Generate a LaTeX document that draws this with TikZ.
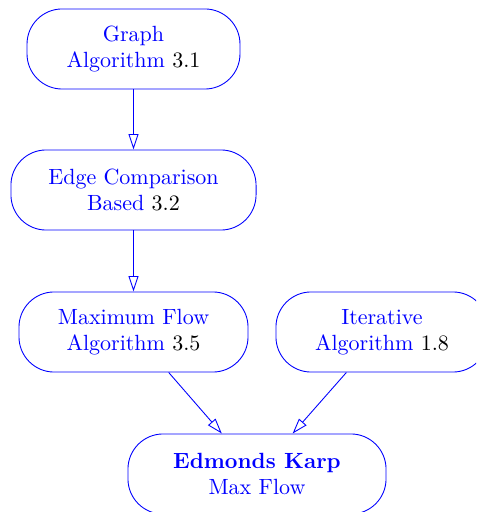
\documentclass[tikz,border=0pt]{standalone}
\usetikzlibrary{arrows.meta}
\begin{document}
\begin{tikzpicture}[x=0.4545pt,y=-0.4545pt,
  box/.style={draw=blue, text=blue, rounded corners=16pt, align=center, inner sep=0pt, minimum height=36.4pt},
  conn/.style={draw=blue, -{Triangle[open,length=7pt,width=4.5pt]}}]
\clip (0,0) rectangle (476,512);
\useasboundingbox (0,0) rectangle (476,512);
\node[box, minimum width=96.8pt] (g) at (133.5,49) {Graph\\Algorithm \textcolor{black}{3.1}};
\node[box, minimum width=111.4pt] (e) at (133.5,190) {Edge Comparison\\Based \textcolor{black}{3.2}};
\node[box, minimum width=104.1pt] (m) at (133.5,332) {Maximum Flow\\Algorithm \textcolor{black}{3.5}};
\node[box, minimum width=96.4pt] (i) at (382,332) {Iterative\\Algorithm \textcolor{black}{1.8}};
\node[box, minimum width=117.3pt] (k) at (257,474) {\textbf{Edmonds Karp}\\Max Flow};
\draw[conn] (g) -- (e);
\draw[conn] (e) -- (m);
\draw[conn] (m) -- (k);
\draw[conn] (i) -- (k);
\end{tikzpicture}
\end{document}
